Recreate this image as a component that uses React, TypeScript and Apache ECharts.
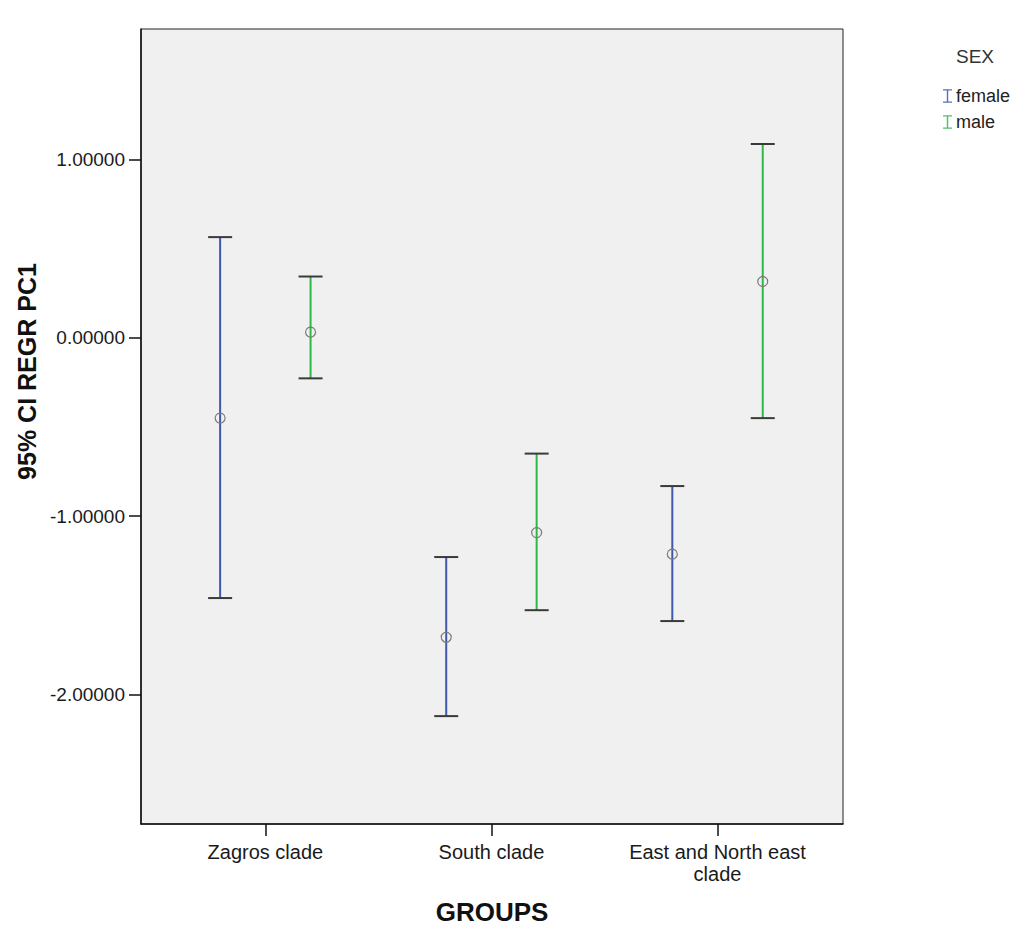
import React, { useEffect, useRef } from "react";
import * as echarts from "echarts";

const groups = ["Zagros clade", "South clade", "East and North east\nclade"];
const sexes = ["female", "male"];
const femaleMean = [-0.451, -1.68, -1.214];
const femaleLower = [-1.46, -2.122, -1.589];
const femaleUpper = [0.564, -1.23, -0.832];
const maleMean = [0.031, -1.093, 0.315];
const maleLower = [-0.228, -1.528, -0.451];
const maleUpper = [0.343, -0.65, 1.086];
const yTicks = [-2, -1, 0, 1];

const FEMALE_COLOR = "#3e58ac";
const MALE_COLOR = "#2eb848";
const FONT = "'Liberation Sans', Arial, sans-serif";
const OFFSET = 0.2;

function buildData(lower: number[], upper: number[], mean: number[], shift: number) {
  return groups.map((_, i) => [i + 1 + shift, lower[i], upper[i], mean[i]]);
}

function makeRenderItem(color: string) {
  return (params: any, api: any) => {
    const x = api.value(0);
    const lo = api.value(1);
    const hi = api.value(2);
    const m = api.value(3);
    const pHi = api.coord([x, hi]);
    const pLo = api.coord([x, lo]);
    const pM = api.coord([x, m]);
    const cap = 12;
    return {
      type: "group",
      children: [
        {
          type: "line",
          shape: { x1: pHi[0], y1: pHi[1], x2: pLo[0], y2: pLo[1] },
          style: { stroke: color, lineWidth: 2 },
        },
        {
          type: "line",
          shape: { x1: pHi[0] - cap, y1: pHi[1], x2: pHi[0] + cap, y2: pHi[1] },
          style: { stroke: "#3a3a3a", lineWidth: 2 },
        },
        {
          type: "line",
          shape: { x1: pLo[0] - cap, y1: pLo[1], x2: pLo[0] + cap, y2: pLo[1] },
          style: { stroke: "#3a3a3a", lineWidth: 2 },
        },
        {
          type: "circle",
          shape: { cx: pM[0], cy: pM[1], r: 5 },
          style: { fill: "none", stroke: "#7a7a7a", lineWidth: 1.2 },
        },
      ],
    };
  };
}

const IBEAM = "path://M0,0H10V1.5H5.8V13.5H10V15H0V13.5H4.2V1.5H0Z";

export default function App() {
  const ref = useRef<HTMLDivElement>(null);
  useEffect(() => {
    document.body.style.margin = "0";
    const chart = echarts.init(ref.current!, null, { renderer: "svg" });
    chart.setOption({
      animation: false,
      backgroundColor: "#ffffff",
      textStyle: { fontFamily: FONT },
      title: {
        text: "SEX",
        left: 951,
        top: 42,
        textStyle: { fontFamily: FONT, fontSize: 19, fontWeight: "normal", color: "#333" },
      },
      legend: {
        orient: "vertical",
        left: 938,
        top: 82,
        itemWidth: 9,
        itemHeight: 14,
        itemGap: 8,
        icon: IBEAM,
        data: sexes,
        itemStyle: { opacity: 0.85 },
        textStyle: { fontFamily: FONT, fontSize: 18, color: "#222", padding: [0, 0, 0, -1] },
      },
      grid: {
        left: 141,
        top: 29,
        right: 177,
        bottom: 102,
        outerBoundsMode: "none",
        containLabel: false,
        show: true,
        backgroundColor: "#f0f0f0",
        borderColor: "#222",
        borderWidth: 1,
      },
      xAxis: {
        type: "value",
        min: 0.45,
        max: 3.555,
        name: "GROUPS",
        nameLocation: "middle",
        nameGap: 75,
        nameTextStyle: { fontFamily: FONT, fontSize: 26, fontWeight: "bold", color: "#111" },
        splitLine: { show: false },
        axisLine: { show: true, onZero: false, lineStyle: { color: "#111", width: 1.5 } },
        axisTick: { show: true, customValues: [1, 2, 3], length: 12, lineStyle: { color: "#111", width: 1.5 } },
        axisLabel: {
          customValues: [1, 2, 3],
          formatter: (v: number) => groups[Math.round(v) - 1] ?? "",
          margin: 17,
          fontFamily: FONT,
          fontSize: 20,
          lineHeight: 22,
          color: "#1a1a1a",
          align: "center",
        },
      },
      yAxis: {
        type: "value",
        min: -2.727,
        max: 1.731,
        name: "95% CI REGR PC1",
        nameLocation: "middle",
        nameGap: 100,
        nameRotate: 90,
        nameTextStyle: {
          fontFamily: FONT,
          fontSize: 25,
          fontWeight: "bold",
          color: "#111",
          padding: [0, 0, 0, 110],
        },
        splitLine: { show: false },
        axisLine: { show: true, onZero: false, lineStyle: { color: "#111", width: 1.5 } },
        axisTick: { show: true, customValues: yTicks, length: 12, lineStyle: { color: "#111", width: 1.5 } },
        axisLabel: {
          customValues: yTicks,
          formatter: (v: number) => v.toFixed(5),
          margin: 16,
          fontFamily: FONT,
          fontSize: 19,
          color: "#1a1a1a",
        },
      },
      series: [
        {
          name: "female",
          type: "custom",
          color: FEMALE_COLOR,
          renderItem: makeRenderItem(FEMALE_COLOR),
          encode: { x: 0, y: [1, 2, 3] },
          data: buildData(femaleLower, femaleUpper, femaleMean, -OFFSET),
        },
        {
          name: "male",
          type: "custom",
          color: MALE_COLOR,
          renderItem: makeRenderItem(MALE_COLOR),
          encode: { x: 0, y: [1, 2, 3] },
          data: buildData(maleLower, maleUpper, maleMean, OFFSET),
        },
      ],
    });
    return () => chart.dispose();
  }, []);
  return <div ref={ref} style={{ width: 1020, height: 926 }} />;
}
